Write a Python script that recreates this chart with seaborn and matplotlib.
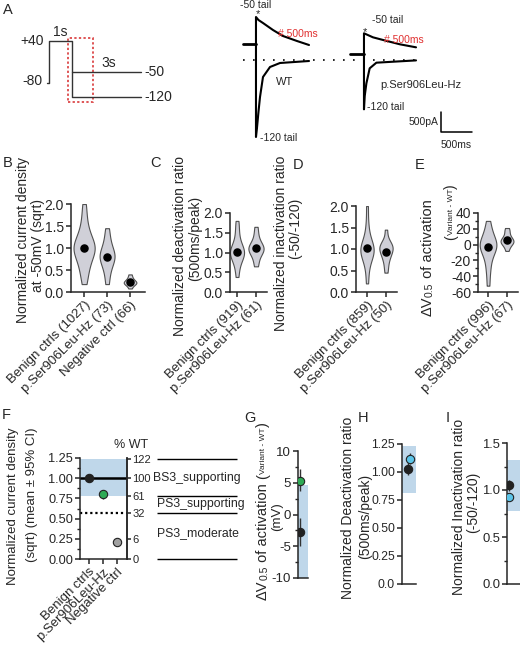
import numpy as np
import matplotlib
matplotlib.use('Agg')
import matplotlib.pyplot as plt
import seaborn as sns

# ---------------- data ----------------
# A: voltage protocol (s, mV)
prot_t = [-0.1, 0, 0, 1, 1, 4]
prot_v = [-80, -80, 40, 40, -120, -120]
step50_t = [1, 4]
step50_v = [-50, -50]

# A: example tail currents (ms, pA)
wt_base_t = [-210, 0]
wt_base_i = [400, 400]
wt_50_t = [0, 0, 40, 113, 274, 435, 661, 855]
wt_50_i = [400, 1075, 1000, 925, 750, 600, 475, 375]
wt_120_t = [0, 0, 16, 40, 65, 113, 226, 387, 855]
wt_120_i = [400, -1925, -1700, -1300, -925, -425, -175, -75, -25]
var_base_t = [-230, 0]
var_base_i = [150, 150]
var_50_t = [0, 0, 40, 145, 370, 580, 839]
var_50_i = [150, 667, 640, 567, 475, 392, 317]
var_120_t = [0, 0, 12, 39, 92, 200, 839]
var_120_i = [150, -1233, -900, -583, -208, -67, -10]

# B: current density
b_cats = ['Benign ctrls (1027)', 'p.Ser906Leu-Hz (73)', 'Negative ctrl (66)']
b_benign = [0.18, 0.35, 0.5, 0.6, 0.7, 0.78, 0.85, 0.9, 0.95, 1.0, 1.0, 1.05,
            1.1, 1.15, 1.22, 1.3, 1.4, 1.55, 1.75, 2.0]
b_variant = [0.18, 0.4, 0.55, 0.65, 0.72, 0.78, 0.82, 0.86, 0.9, 1.0, 1.1, 1.25, 1.45]
b_negative = [0.08, 0.15, 0.18, 0.2, 0.22, 0.22, 0.25, 0.28, 0.33, 0.4]
b_mean = [1.0, 0.8, 0.22]

# C: deactivation
c_cats = ['Benign ctrls (919)', 'p.Ser906Leu-Hz (61)']
c_benign = [0.38, 0.6, 0.75, 0.85, 0.9, 0.95, 1.0, 1.0, 1.05, 1.1, 1.15, 1.25, 1.4, 1.6, 1.8]
c_variant = [0.65, 0.8, 0.95, 1.0, 1.05, 1.1, 1.12, 1.15, 1.2, 1.3, 1.45, 1.65]
c_mean = [1.02, 1.12]

# D: inactivation
d_cats = ['Benign ctrls (859)', 'p.Ser906Leu-Hz (50)']
d_benign = [0.2, 0.5, 0.7, 0.8, 0.88, 0.92, 0.95, 1.0, 1.02, 1.05, 1.1, 1.2, 1.35, 1.6, 2.0]
d_variant = [0.45, 0.6, 0.75, 0.82, 0.88, 0.95, 1.0, 1.02, 1.05, 1.08, 1.12, 1.2, 1.45]
d_mean = [1.03, 0.93]

# E: dV0.5
e_cats = ['Benign ctrls (996)', 'p.Ser906Leu-Hz (67)']
e_benign = [-52, -35, -25, -15, -10, -6, -3, -1, 0, 2, 4, 8, 14, 20, 30]
e_variant = [-8, -3, 0, 2, 3, 4, 5, 6, 8, 10, 14, 18, 21]
e_mean = [-2.7, 5.3]

# F: summary current density
f_cats = ['Benign ctrls', 'p.Ser906Leu-Hz', 'Negative ctrl']
f_mean = [1.0, 0.80, 0.21]
f_err = [0.03, 0.055, 0.02]
f_band = (0.78, 1.24)
wt_pct = [122, 100, 61, 32, 6, 0]
wt_pct_pos = [1.24, 1.0, 0.78, 0.566, 0.245, 0.0]
acmg_labels = ['BS3_supporting', 'PS3_supporting', 'PS3_moderate']
acmg_pos = [1.0, 0.68, 0.32]
acmg_bounds = [1.24, 0.78, 0.566, 0.0]

# G-I: summary
g_mean = [-2.8, 5.3]
g_lo = [-4.9, 3.7]
g_hi = [-0.6, 7.2]
g_band = (-15, 4.6)
h_mean = [1.03, 1.12]
h_err = [0.06, 0.05]
h_band = (0.81, 1.23)
i_mean = [1.05, 0.93]
i_err = [0.06, 0.04]
i_band = (0.78, 1.32)

# ---------------- style ----------------
sns.set_style('ticks')
plt.rcParams['font.family'] = ['Liberation Sans', 'DejaVu Sans']
plt.rcParams['axes.unicode_minus'] = False
plt.rcParams['axes.linewidth'] = 1.1
plt.rcParams['xtick.major.width'] = 1.1
plt.rcParams['ytick.major.width'] = 1.1
plt.rcParams['xtick.major.size'] = 3.5
plt.rcParams['ytick.major.size'] = 3.5
plt.rcParams['ytick.minor.size'] = 2
plt.rcParams['ytick.minor.width'] = 1
plt.rcParams['xtick.major.pad'] = 1.5
plt.rcParams['ytick.major.pad'] = 1.5

BAND = '#bfd7ea'
GREEN = '#2eaa55'
CYAN = '#5bc4e8'
VIOL = '#d0d0d8'

W, H = 520, 648
fig = plt.figure(figsize=(W / 100, H / 100), dpi=100)


def px_axes(x0, y0, x1, y1):
    return fig.add_axes([x0 / W, 1 - y1 / H, (x1 - x0) / W, (y1 - y0) / H])


ov = fig.add_axes([0, 0, 1, 1], zorder=10)
ov.set_xlim(0, W)
ov.set_ylim(H, 0)
ov.axis('off')

renderer = fig.canvas.get_renderer()


def text_len(s, fs):
    t = fig.text(0, 0, s, fontsize=fs)
    w = t.get_window_extent(renderer).width
    t.remove()
    return w


def vlabel(pieces, xb, yc):
    lens = [text_len(s, fs) for s, fs, _ in pieces]
    y = yc + sum(lens) / 2
    for (s, fs, dx), L in zip(pieces, lens):
        ov.text(xb - dx, y, s, fontsize=fs, rotation=90, rotation_mode='anchor',
                ha='left', va='baseline')
        y -= L


def vtext(s, x, y, fs=10):
    ov.text(x, y, s, fontsize=fs, rotation=90, ha='center', va='center')


# panel letters
for lab, x, y in [('A', 3, 10), ('B', 3, 163), ('C', 150, 163), ('D', 293, 165),
                  ('E', 415, 165), ('F', 2, 415), ('G', 244, 418), ('H', 358, 418),
                  ('I', 446, 418)]:
    ov.text(x, y, lab, fontsize=10.5, va='center', ha='left')

# ---------------- A: protocol ----------------
axp = px_axes(40, 25, 150, 105)
axp.plot(prot_t, prot_v, color='#333333', lw=1)
axp.plot(step50_t, step50_v, color='#333333', lw=1)
axp.set_xlim(-0.39, 4.39)
axp.set_ylim(-142.9, 85.7)
axp.axis('off')
axp.add_patch(plt.Rectangle((0.83, -134), 1.08, 182, fill=False, ec='#d62728',
                            ls=(0, (1.5, 1.5)), lw=1.1, clip_on=False))
axp.text(-0.2, 40, '+40', ha='right', va='center', fontsize=10)
axp.text(-0.3, -74, '-80', ha='right', va='center', fontsize=10)
axp.text(0.5, 47, '1s', ha='center', va='bottom', fontsize=10)
axp.text(2.6, -44, '3s', ha='center', va='bottom', fontsize=10)
axp.text(4.15, -50, '-50', ha='left', va='center', fontsize=10)
axp.text(4.15, -120, '-120', ha='left', va='center', fontsize=10)

# ---------------- A: traces ----------------
for x0, base, t50, i50, t120, i120 in [
        (236, (wt_base_t, wt_base_i), wt_50_t, wt_50_i, wt_120_t, wt_120_i),
        (344, (var_base_t, var_base_i), var_50_t, var_50_i, var_120_t, var_120_i)]:
    ax = px_axes(x0, 0, x0 + 84, 145)
    ax.plot(base[0], base[1], color='k', lw=2)
    ax.plot(t50, i50, color='k', lw=1.5)
    ax.plot(t120, i120, color='k', lw=1.5)
    ax.set_xlim(-322, 1032)
    ax.set_ylim(-2125, 1500)
    ax.axis('off')
    if x0 == 236:
        axw = ax
    else:
        axv = ax

axw.plot([-210, 2690], [0, 0], color='k', lw=1.2, ls=(0, (1, 5)), clip_on=False)
axw.text(0, 1375, '-50 tail', ha='center', va='center', fontsize=7.5)
axw.text(25, 1160, '*', ha='center', va='center', fontsize=8)
axw.text(360, 650, '# 500ms', ha='left', va='center', fontsize=7.5, color='#e03030')
axw.text(322, -550, 'WT', ha='left', va='center', fontsize=8)
axw.text(65, -1950, '-120 tail', ha='left', va='center', fontsize=7.5)

axv.text(387, 1000, '-50 tail', ha='center', va='center', fontsize=7.5)
axv.text(16, 710, '*', ha='center', va='center', fontsize=8)
axv.text(330, 500, '# 500ms', ha='left', va='center', fontsize=7.5, color='#e03030')
axv.text(258, -625, 'p.Ser906Leu-Hz', ha='left', va='center', fontsize=8)
axv.text(48, -1175, '-120 tail', ha='left', va='center', fontsize=7.5)
axv.plot([1242, 1242, 1742], [-1300, -1800, -1800], color='k', lw=1.1, clip_on=False)
axv.text(1200, -1550, '500pA', ha='right', va='center', fontsize=7.5)
axv.text(1492, -1990, '500ms', ha='center', va='top', fontsize=7.5)


# ---------------- B-E: violins ----------------
def violins(ax, cats, samples, widths, means):
    for cat, vals, w in zip(cats, samples, widths):
        sns.violinplot(x=[cat] * len(vals), y=vals, order=cats, ax=ax, width=w,
                       cut=0, bw_adjust=0.8, density_norm='width', inner=None,
                       color=VIOL, linecolor='#505050', linewidth=0.8, saturation=1)
    ax.scatter(range(len(cats)), means, s=26, color='k', zorder=5)
    ax.set_xticks(range(len(cats)))
    ax.set_xticklabels(cats, rotation=45, ha='right', rotation_mode='anchor', fontsize=9.5)
    ax.tick_params(axis='y', labelsize=10)
    sns.despine(ax=ax)


axb = px_axes(71, 204, 145, 292)
violins(axb, b_cats, [b_benign, b_variant, b_negative], [0.92, 0.65, 0.55], b_mean)
axb.set_ylim(0, 2)
axb.set_xlim(-0.57, 2.65)
axb.set_yticks([0, 0.5, 1, 1.5, 2])
axb.set_yticklabels(['0.0', '0.5', '1.0', '1.5', '2.0'])

axc = px_axes(230, 213, 267, 292)
violins(axc, c_cats, [c_benign, c_variant], [0.74, 0.8], c_mean)
axc.set_ylim(0, 2)
axc.set_xlim(-0.37, 1.58)
axc.set_yticks([0, 0.5, 1, 1.5, 2])
axc.set_yticklabels(['0.0', '0.5', '1.0', '1.5', '2.0'])

axd = px_axes(356, 206, 397, 292)
violins(axd, d_cats, [d_benign, d_variant], [0.7, 0.7], d_mean)
axd.set_ylim(0, 2)
axd.set_xlim(-0.58, 1.58)
axd.set_yticks([0, 0.5, 1, 1.5, 2])
axd.set_yticklabels(['0.0', '0.5', '1.0', '1.5', '2.0'])

axe = px_axes(478, 213, 518, 292)
violins(axe, e_cats, [e_benign, e_variant], [0.88, 0.68], e_mean)
axe.set_ylim(-60, 40)
axe.set_xlim(-0.53, 1.58)
axe.set_yticks([-60, -40, -20, 0, 20, 40])
axe.set_yticks(range(-50, 40, 20), minor=True)

vtext('Normalized current density', 23, 240)
vtext('at -50mV (sqrt)', 38, 245)
vtext('Normalized deactivation ratio', 180, 246)
vtext('(500ms/peak)', 195, 238)
vtext('Normalized inactivation ratio', 281, 243)
vtext('(-50/-120)', 295, 228)
vlabel([('ΔV', 10.5, 0), ('0.5', 7.5, -0.5), (' of activation', 10.5, 0)], 432, 258)
vlabel([('(', 10, 0), ('Variant - WT', 6, 2), (')', 10, 0)], 455, 212)


# ---------------- F ----------------
def dots(ax, xs, ys, lo, hi, colors):
    for x, y, l, h, c in zip(xs, ys, lo, hi, colors):
        ax.errorbar([x], [y], yerr=[[y - l], [h - y]], fmt='none', ecolor='#333333',
                    elinewidth=1, zorder=4)
        ax.scatter([x], [y], s=36, color=c, edgecolor='#222222', linewidth=0.8, zorder=5)


axf = px_axes(80, 458, 127, 559)
axf.axhspan(*f_band, color=BAND, lw=0, zorder=0)
axf.axhline(1.0, color='k', lw=1.8, zorder=2)
axf.axhline(wt_pct_pos[3], color='k', lw=1.6, ls=(0, (1, 1.3)), zorder=2)
dots(axf, range(3), f_mean, np.subtract(f_mean, f_err), np.add(f_mean, f_err),
     ['#222222', GREEN, '#a0a0a0'])
axf.set_xlim(-0.64, 2.71)
axf.set_ylim(0, 1.25)
axf.set_yticks([0, 0.25, 0.5, 0.75, 1.0, 1.25])
axf.set_yticklabels(['0.00', '0.25', '0.50', '0.75', '1.00', '1.25'])
axf.set_yticks(np.arange(0.125, 1.25, 0.25), minor=True)
axf.tick_params(axis='y', labelsize=9.2)
axf.set_xticks(range(3))
axf.set_xticklabels(f_cats, rotation=45, ha='right', rotation_mode='anchor', fontsize=9.5)
axf.spines['top'].set_visible(False)
axr = axf.twinx()
axr.set_ylim(0, 1.25)
axr.set_yticks(wt_pct_pos)
axr.set_yticklabels([str(p) for p in wt_pct])
axr.tick_params(axis='y', labelsize=8, pad=1, length=3)
for s in ['top', 'left', 'bottom']:
    axr.spines[s].set_visible(False)
ov.text(131, 445, '% WT', ha='center', va='center', fontsize=9)

crit = px_axes(147, 458, 240, 559)
crit.set_xlim(0, 93)
crit.set_ylim(0, 1.25)
crit.axis('off')
crit.hlines(acmg_bounds, 10, 90, color='k', lw=1, clip_on=False)
crit.text(6, acmg_pos[0], acmg_labels[0], ha='left', va='center', fontsize=8.8)
crit.text(10, acmg_pos[1], acmg_labels[1], ha='left', va='center', fontsize=8.8)
crit.text(10, acmg_pos[2], acmg_labels[2], ha='left', va='center', fontsize=8.8)

vtext('Normalized current density', 13, 506, fs=9.5)
vtext('(sqrt) (mean ± 95% CI)', 32, 495, fs=9.5)


# ---------------- G, H, I ----------------
def small_axis(ax, fs):
    ax.spines['top'].set_visible(False)
    ax.spines['right'].set_visible(False)
    ax.set_xticks([])
    ax.tick_params(axis='y', labelsize=fs)


axg = px_axes(298, 451, 308, 578)
axg.axhspan(*g_band, color=BAND, lw=0, zorder=0)
dots(axg, [0, 0], g_mean, g_lo, g_hi, ['#222222', GREEN])
axg.set_xlim(-0.5, 2)
axg.set_ylim(-10, 10)
axg.set_yticks([-10, -5, 0, 5, 10])
axg.set_yticks(np.arange(-7.5, 10, 5), minor=True)
small_axis(axg, 9.5)

axh = px_axes(402, 444, 416, 584)
axh.axhspan(*h_band, color=BAND, lw=0, zorder=0)
dots(axh, [0, 0.2], h_mean, np.subtract(h_mean, h_err), np.add(h_mean, h_err),
     ['#222222', CYAN])
axh.set_xlim(-0.61, 0.82)
axh.set_ylim(0, 1.25)
axh.set_yticks([0, 0.25, 0.5, 0.75, 1.0, 1.25])
axh.set_yticklabels(['0.0', '0.25', '0.50', '0.75', '1.00', '1.25'])
small_axis(axh, 8.8)

axi = px_axes(507, 443, 520, 584)
axi.axhspan(*i_band, color=BAND, lw=0, zorder=0)
dots(axi, [0, 0], i_mean, np.subtract(i_mean, i_err), np.add(i_mean, i_err),
     ['#222222', CYAN])
axi.set_xlim(-0.3, 1.7)
axi.set_ylim(0, 1.5)
axi.set_yticks([0, 0.5, 1.0, 1.5])
axi.set_yticklabels(['0.0', '0.5', '1.0', '1.5'])
axi.set_yticks([0.25, 0.75, 1.25], minor=True)
small_axis(axi, 9.4)

vlabel([('ΔV', 10.5, 0), ('0.5', 7.5, -0.5), (' of activation ', 10.5, 0), ('(', 10.5, 0),
        ('Variant - WT', 6, 2), (')', 10.5, 0)], 267, 511)
vtext('(mV)', 277, 517, fs=9.5)
vtext('Normalized Deactivation ratio', 348, 508)
vtext('(500ms/peak)', 365, 516)
vtext('Normalized Inactivation ratio', 459, 507)
vtext('(-50/-120)', 473, 502)

fig.savefig('out.png', dpi=100)
